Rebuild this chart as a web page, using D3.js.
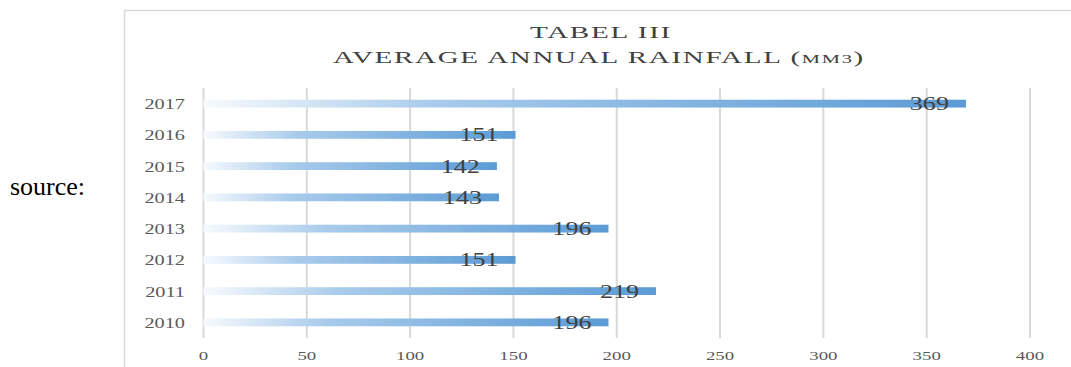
<!DOCTYPE html>
<html>
<head>
<meta charset="utf-8">
<script src="https://cdn.jsdelivr.net/npm/d3@7"></script>
<style>
  html, body { margin: 0; padding: 0; background: #fff; }
  svg { display: block; }
</style>
</head>
<body>
<svg id="chart" width="1071" height="367"></svg>
<script>
const years = ["2017", "2016", "2015", "2014", "2013", "2012", "2011", "2010"];
const rainfall = [369, 151, 142, 143, 196, 151, 219, 196];
const xTicks = [0, 50, 100, 150, 200, 250, 300, 350, 400];
const titleLine1 = "TABEL  III";
const titleLine2 = "AVERAGE  ANNUAL  RAINFALL  (";
const titleUnit = "MM3";
const sourceText = "source:";

const svg = d3.select("#chart");
const SX = 1.45; // horizontal stretch of the embedded chart picture
const serif = "'Liberation Serif', 'Times New Roman', serif";

// gradient per bar
const defs = svg.append("defs");
const grad = defs.append("linearGradient").attr("id", "barGrad")
  .attr("x1", "0").attr("x2", "1").attr("y1", "0").attr("y2", "0");
grad.append("stop").attr("offset", "0").attr("stop-color", "#f7fafd");
grad.append("stop").attr("offset", "0.3").attr("stop-color", "#a9cbeb");
grad.append("stop").attr("offset", "1").attr("stop-color", "#5b9bd5");

// frame
svg.append("rect")
  .attr("x", 124.5).attr("y", 10.5)
  .attr("width", 1000).attr("height", 400)
  .attr("fill", "#fff").attr("stroke", "#d9d9d9").attr("stroke-width", 1.5);

// source text
svg.append("text")
  .attr("x", 10).attr("y", 195)
  .attr("font-family", serif).attr("font-size", 26)
  .attr("fill", "#000")
  .text(sourceText);

const x = d3.scaleLinear().domain([0, 400]).range([203.5, 1030]);
const y = d3.scaleBand().domain(years).range([88, 338]).paddingInner(0.75).paddingOuter(0.375);

// gridlines
svg.append("g").selectAll("line").data(xTicks).join("line")
  .attr("x1", d => x(d)).attr("x2", d => x(d))
  .attr("y1", 88).attr("y2", 338)
  .attr("stroke", "#d9d9d9").attr("stroke-width", 2);

// bars
const data = years.map((yr, i) => ({ year: yr, value: rainfall[i] }));
svg.append("g").selectAll("rect").data(data).join("rect")
  .attr("x", x(0))
  .attr("y", d => y(d.year))
  .attr("width", d => x(d.value) - x(0))
  .attr("height", y.bandwidth())
  .attr("fill", "url(#barGrad)");

function stretched(g, px, py, anchor) {
  return g.append("text")
    .attr("transform", `translate(${px},${py}) scale(${SX},1)`)
    .attr("text-anchor", anchor);
}

// y labels
const yl = svg.append("g");
data.forEach(d => {
  stretched(yl, 185, y(d.year) + y.bandwidth() / 2 + 5.5, "end")
    .attr("font-family", serif).attr("font-size", 14)
    .attr("fill", "#595959").text(d.year);
});

// x tick labels
const xl = svg.append("g");
xTicks.forEach(t => {
  stretched(xl, x(t), 360, "middle")
    .attr("font-family", serif).attr("font-size", 13)
    .attr("fill", "#595959").text(t);
});

// data labels
const dl = svg.append("g");
data.forEach(d => {
  stretched(dl, x(d.value) - 17, y(d.year) + y.bandwidth() / 2 + 6.5, "end")
    .attr("font-family", serif).attr("font-size", 18)
    .attr("fill", "#404040").text(d.value);
});

// title
const tg = svg.append("g");
tg.append("text")
  .attr("x", 601).attr("y", 38).attr("text-anchor", "middle")
  .attr("font-family", serif).attr("font-size", 17)
  .attr("fill", "#404040").attr("letter-spacing", 1)
  .attr("textLength", 142).attr("lengthAdjust", "spacingAndGlyphs")
  .text(titleLine1);
const t2 = tg.append("text")
  .attr("x", 599).attr("y", 63).attr("text-anchor", "middle")
  .attr("font-family", serif).attr("font-size", 17)
  .attr("fill", "#404040").attr("letter-spacing", 1)
  .attr("textLength", 532).attr("lengthAdjust", "spacingAndGlyphs");
t2.append("tspan").text(titleLine2);
t2.append("tspan").attr("font-size", 12).text(titleUnit);
t2.append("tspan").text(")");
</script>
</body>
</html>
